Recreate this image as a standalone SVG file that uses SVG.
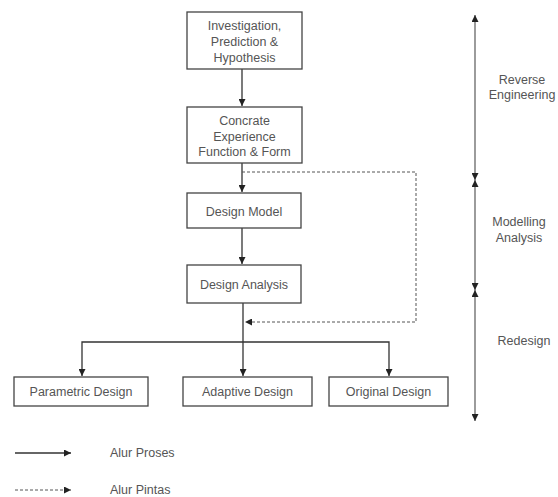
<svg xmlns="http://www.w3.org/2000/svg" width="558" height="497" viewBox="0 0 558 497">
<style>
.box{fill:#fff;stroke:#444;stroke-width:1.3}
.t{font-family:"Liberation Sans",Arial,sans-serif;font-size:12.5px;fill:#555;text-anchor:middle}
.lt{font-family:"Liberation Sans",Arial,sans-serif;font-size:12.5px;fill:#555}
.c{fill:none;stroke:#333;stroke-width:1.3}
.d{fill:none;stroke:#555;stroke-width:1;stroke-dasharray:3,2}
.v{fill:none;stroke:#666;stroke-width:1.3}
</style>
<defs>
<marker id="ah" viewBox="0 0 10 10" refX="10" refY="5" markerWidth="7" markerHeight="7" orient="auto-start-reverse" markerUnits="userSpaceOnUse">
<path d="M0,0 L10,5 L0,10 z" fill="#222"/>
</marker>
</defs>
<rect width="558" height="497" fill="#fff"/>
<g id="connectors">
<line class="c" x1="242" y1="69" x2="242" y2="106" marker-end="url(#ah)"/>
<line class="c" x1="242" y1="163" x2="242" y2="192" marker-end="url(#ah)"/>
<line class="c" x1="242" y1="228" x2="242" y2="264" marker-end="url(#ah)"/>
<line class="c" x1="243" y1="303" x2="243" y2="342"/>
<polyline class="c" points="82,376 82,342 389,342 389,376" marker-start="url(#ah)" marker-end="url(#ah)"/>
<line class="c" x1="243" y1="342" x2="243" y2="376" marker-end="url(#ah)"/>
<polyline class="d" points="242,172 416,172 416,322 245,322" marker-end="url(#ah)"/>
<line class="v" x1="475" y1="15" x2="475" y2="180" marker-start="url(#ah)" marker-end="url(#ah)"/>
<line class="v" x1="475" y1="180" x2="475" y2="290" marker-start="url(#ah)" marker-end="url(#ah)"/>
<line class="v" x1="475" y1="290" x2="475" y2="421" marker-start="url(#ah)" marker-end="url(#ah)"/>
<line class="c" x1="15" y1="453" x2="71" y2="453" marker-end="url(#ah)"/>
<line class="d" x1="15" y1="490" x2="71" y2="490" marker-end="url(#ah)"/>
</g>
<g id="n1"><rect class="box" x="187" y="12" width="115" height="57"/>
<text class="t" x="244.5" y="30">Investigation,</text><text class="t" x="244.5" y="46">Prediction &amp;</text><text class="t" x="244.5" y="62">Hypothesis</text></g>
<g id="n2"><rect class="box" x="187" y="107" width="115" height="56"/>
<text class="t" x="244.5" y="125">Concrate</text><text class="t" x="244.5" y="141">Experience</text><text class="t" x="244.5" y="156">Function &amp; Form</text></g>
<g id="n3"><rect class="box" x="187" y="193" width="114" height="35"/>
<text class="t" x="244" y="216">Design Model</text></g>
<g id="n4"><rect class="box" x="187" y="265" width="114" height="38"/>
<text class="t" x="244" y="289">Design Analysis</text></g>
<g id="n5"><rect class="box" x="14" y="377" width="134" height="29"/>
<text class="t" x="81" y="396">Parametric Design</text></g>
<g id="n6"><rect class="box" x="183" y="377" width="129" height="29"/>
<text class="t" x="247.5" y="396">Adaptive Design</text></g>
<g id="n7"><rect class="box" x="329" y="377" width="119" height="29"/>
<text class="t" x="388.5" y="396">Original Design</text></g>
<g id="labels">
<text class="t" x="522" y="84">Reverse</text><text class="t" x="522" y="99">Engineering</text>
<text class="t" x="519" y="226">Modelling</text><text class="t" x="519" y="242">Analysis</text>
<text class="t" x="524" y="345">Redesign</text>
<text class="lt" x="110" y="457">Alur Proses</text>
<text class="lt" x="110" y="494">Alur Pintas</text>
</g>
</svg>
